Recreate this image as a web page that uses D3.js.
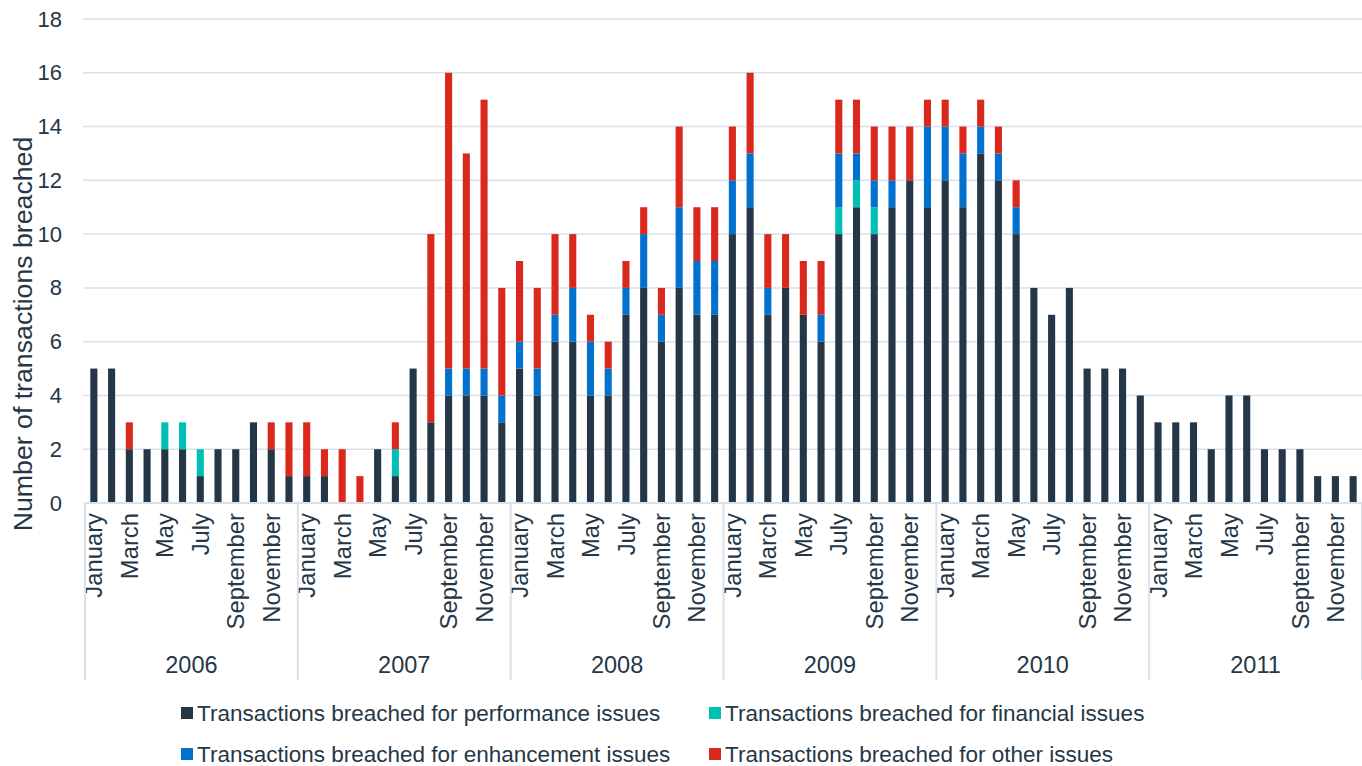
<!DOCTYPE html>
<html>
<head>
<meta charset="utf-8">
<script src="https://cdn.jsdelivr.net/npm/d3@7"></script>
<style>
  html, body { margin: 0; padding: 0; background: #ffffff; }
  svg { display: block; }
  text { font-family: "Liberation Sans", Arial, sans-serif; fill: #253746; }
</style>
</head>
<body>
<svg id="chart" width="1362" height="766"></svg>
<script>
const years = ["2006", "2007", "2008", "2009", "2010", "2011"];
const monthNames = ["January","February","March","April","May","June","July","August","September","October","November","December"];
const yTicks = [0, 2, 4, 6, 8, 10, 12, 14, 16, 18];

const performance = [
  5,5,2,2,2,2,1,2,2,3,2,1,
  1,1,0,0,2,1,5,3,4,4,4,3,
  5,4,6,6,4,4,7,8,6,8,7,7,
  10,11,7,8,7,6,10,11,10,11,12,11,
  12,11,13,12,10,8,7,8,5,5,5,4,
  3,3,3,2,4,4,2,2,2,1,1,1
];
const financial = [
  0,0,0,0,1,1,1,0,0,0,0,0,
  0,0,0,0,0,1,0,0,0,0,0,0,
  0,0,0,0,0,0,0,0,0,0,0,0,
  0,0,0,0,0,0,1,1,1,0,0,0,
  0,0,0,0,0,0,0,0,0,0,0,0,
  0,0,0,0,0,0,0,0,0,0,0,0
];
const enhancement = [
  0,0,0,0,0,0,0,0,0,0,0,0,
  0,0,0,0,0,0,0,0,1,1,1,1,
  1,1,1,2,2,1,1,2,1,3,2,2,
  2,2,1,0,0,1,2,1,1,1,0,3,
  2,2,1,1,1,0,0,0,0,0,0,0,
  0,0,0,0,0,0,0,0,0,0,0,0
];
const other = [
  0,0,1,0,0,0,0,0,0,0,1,2,
  2,1,2,1,0,1,0,7,11,8,10,4,
  3,3,3,2,1,1,1,1,1,3,2,2,
  2,3,2,2,2,2,2,2,2,2,2,1,
  1,1,1,1,1,0,0,0,0,0,0,0,
  0,0,0,0,0,0,0,0,0,0,0,0
];

const seriesKeys = ["performance", "financial", "enhancement", "other"];
const seriesLabels = {
  performance: "Transactions breached for performance issues",
  financial: "Transactions breached for financial issues",
  enhancement: "Transactions breached for enhancement issues",
  other: "Transactions breached for other issues"
};
const colors = {
  performance: "#253746",
  financial: "#00bfb3",
  enhancement: "#0072ce",
  other: "#da291c"
};

(function () {
const rows = [];
years.forEach((yr, yi) => {
  monthNames.forEach((m, mi) => {
    const i = yi * 12 + mi;
    rows.push({
      key: yr + "-" + mi, year: yr, month: m, mi: mi,
      performance: performance[i], financial: financial[i],
      enhancement: enhancement[i], other: other[i]
    });
  });
});

const svg = d3.select("#chart");
const pLeft = 85, pRight = 1362, pTop = 19, pBottom = 503;

const x = d3.scaleBand().domain(rows.map(d => d.key)).range([pLeft, pRight])
  .paddingInner(0.6).paddingOuter(0.3);
const y = d3.scaleLinear().domain([0, 18]).range([pBottom, pTop]);

// gridlines
svg.append("g").selectAll("line").data(yTicks.filter(t => t > 0)).join("line")
  .attr("x1", pLeft - 2).attr("x2", pRight)
  .attr("y1", d => y(d)).attr("y2", d => y(d))
  .attr("stroke", "#d9e1ea").attr("stroke-width", 1.5);

// y axis labels
const yAxis = d3.axisLeft(y).tickValues(yTicks).tickSize(0).tickPadding(0);
const yg = svg.append("g").attr("transform", `translate(62,0)`).call(yAxis);
yg.select(".domain").remove();
yg.selectAll("text").attr("font-size", 22).style("fill", "#253746")
  .attr("font-family", "Liberation Sans, Arial, sans-serif");

// y title
svg.append("text")
  .attr("transform", `translate(32,334) rotate(-90)`)
  .attr("text-anchor", "middle")
  .attr("font-size", 26.7)
  .text("Number of transactions breached");

// stacked bars
const stacked = d3.stack().keys(seriesKeys)(rows);
svg.append("g").selectAll("g").data(stacked).join("g")
  .attr("fill", d => colors[d.key])
  .selectAll("rect").data(d => d.filter(s => s[1] - s[0] > 0)).join("rect")
  .attr("x", d => x(d.data.key))
  .attr("width", x.bandwidth())
  .attr("y", d => y(d[1]))
  .attr("height", d => y(d[0]) - y(d[1]));

// x axis baseline
svg.append("line").attr("x1", pLeft).attr("x2", pRight)
  .attr("y1", pBottom).attr("y2", pBottom)
  .attr("stroke", "#d9e1ea").attr("stroke-width", 2);

// month labels (every other month)
const xAxis = d3.axisBottom(x).tickSize(0).tickPadding(0)
  .tickValues(rows.filter(d => d.mi % 2 === 0).map(d => d.key))
  .tickFormat(k => rows.find(r => r.key === k).month);
const xg = svg.append("g").attr("transform", `translate(0,${pBottom})`).call(xAxis);
xg.select(".domain").remove();
xg.selectAll("text")
  .attr("font-size", 23.8)
  .attr("font-family", "Liberation Sans, Arial, sans-serif")
  .style("fill", "#253746")
  .attr("text-anchor", "end")
  .attr("transform", "rotate(-90)")
  .attr("x", -10).attr("y", 0).attr("dy", "0.36em");

// year separators
const step = x.step();
const yearBounds = years.map((yr, i) => pLeft + i * 12 * step).concat([pRight]);
svg.append("g").selectAll("line").data(yearBounds).join("line")
  .attr("x1", d => d).attr("x2", d => d)
  .attr("y1", pBottom).attr("y2", 680)
  .attr("stroke", "#d9e1ea").attr("stroke-width", 2);

// year labels
svg.append("g").selectAll("text").data(years).join("text")
  .attr("x", (d, i) => (yearBounds[i] + yearBounds[i + 1]) / 2)
  .attr("y", 673)
  .attr("text-anchor", "middle")
  .attr("font-size", 23.5)
  .text(d => d);

// legend
const legendItems = [
  { key: "performance", x: 181, y: 713 },
  { key: "financial", x: 709, y: 713 },
  { key: "enhancement", x: 181, y: 754 },
  { key: "other", x: 709, y: 754 }
];
const lg = svg.append("g").selectAll("g").data(legendItems).join("g")
  .attr("transform", d => `translate(${d.x},${d.y})`);
lg.append("rect").attr("x", 0).attr("y", -6).attr("width", 12).attr("height", 12)
  .attr("fill", d => colors[d.key]);
lg.append("text").attr("x", 16).attr("y", 0).attr("dy", "0.35em")
  .attr("font-size", 22.5)
  .text(d => seriesLabels[d.key]);
})();
</script>
</body>
</html>
